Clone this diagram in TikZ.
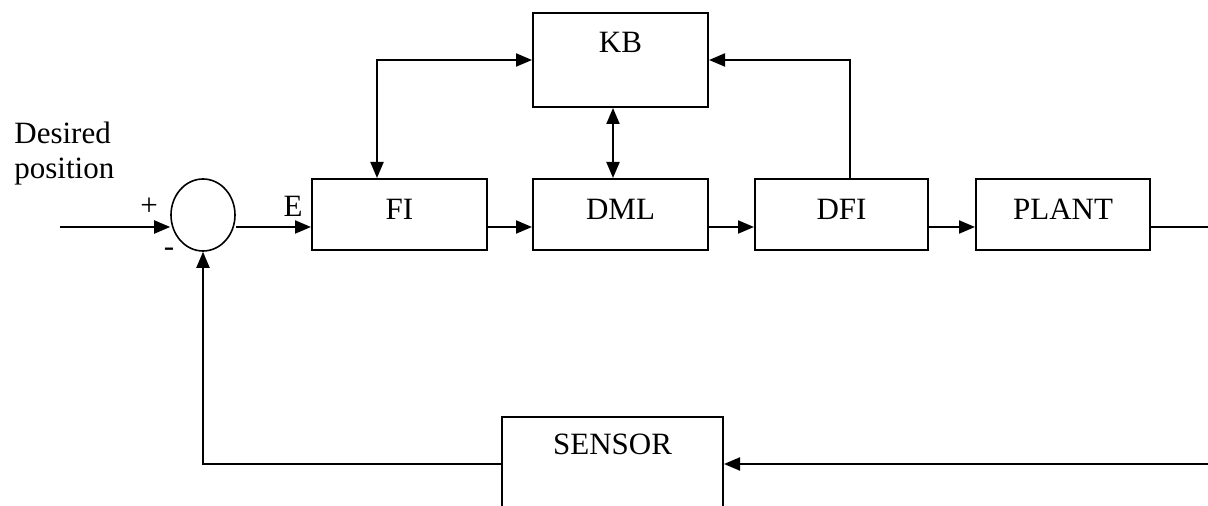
\documentclass[tikz,border=0pt]{standalone}
\usepackage{fontspec}
\setmainfont{Liberation Serif}
\usetikzlibrary{arrows.meta,positioning,shapes.geometric}

\begin{document}
\begin{tikzpicture}[x=0.5pt,y=-0.5pt,>={Triangle[length=8pt,width=6.5pt]},
 font=\fontsize{15.5}{17.5}\selectfont,
 box/.style={draw,line width=1pt,minimum width=87.5pt,inner xsep=0pt,inner ysep=0pt,text height=20.5pt,text depth=15pt},
 flow/.style={->,line width=1pt}]
\useasboundingbox (0,0) rectangle (1208,506);
\node[ellipse,draw,line width=0.8pt,minimum width=32pt,minimum height=36pt,inner sep=0pt] (sum) at (203,215) {};
\node[box] (fi) at (399.5,214.5) {FI};
\node[box] (dml) at (620.5,214.5) {DML};
\node[box,minimum width=86.5pt] (dfi) at (841.5,214.5) {DFI};
\node[box,minimum width=87pt] (plant) at (1063,214.5) {PLANT};
\node[box,text height=20pt,text depth=27pt] (kb) at (620.5,60) {KB};
\node[box,minimum width=110.5pt,text height=19pt,text depth=32.5pt] (sensor) at (612.5,468.5) {SENSOR};
\node[align=left,anchor=north west,inner sep=0pt] (desired) at (14,122) {Desired\\position};
\node (plus) at (149,207) {+};
\node (minus) at (169,252) {-};
\node (err) at (293,206) {E};
\coordinate (in) at (60,227);
\coordinate (out) at (1210,227);
\coordinate (back) at (1210,464);
\draw[flow] (in) -- (in -| sum.west);
\draw[flow] ([yshift=-6.25pt]fi.west -| sum.east) -- ([yshift=-6.25pt]fi.west);
\draw[flow] ([yshift=-6.25pt]fi.east) -- ([yshift=-6.25pt]dml.west);
\draw[flow] ([yshift=-6.25pt]dml.east) -- ([yshift=-6.25pt]dfi.west);
\draw[flow] ([yshift=-6.25pt]dfi.east) -- ([yshift=-6.25pt]plant.west);
\draw[line width=1pt] ([yshift=-6.25pt]plant.east) -- (out);
\draw[flow] (back) -- ([yshift=2.25pt]sensor.east);
\draw[flow] ([yshift=2.25pt]sensor.west) -| (sum.south);
\draw[flow,<->] ([xshift=-11.25pt]fi.north) |- (kb.west);
\draw[flow,<->] ([xshift=-3.75pt]kb.south) -- ([xshift=-3.75pt]dml.north);
\draw[flow] ([xshift=4.25pt]dfi.north) |- (kb.east);
\end{tikzpicture}
\end{document}
